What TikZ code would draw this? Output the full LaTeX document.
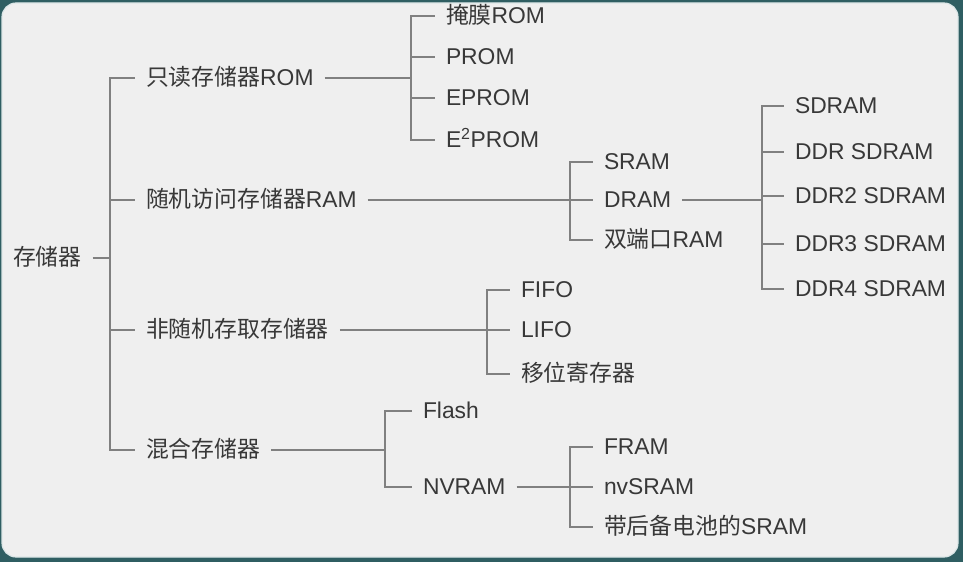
\documentclass[tikz,border=0pt]{standalone}
\usepackage{fontspec}
\setmainfont{Liberation Sans}
\newfontfamily\cjk{Noto Sans CJK SC}
\definecolor{framecol}{HTML}{2F5E62}
\definecolor{papercol}{HTML}{EFEFEF}
\definecolor{rimcol}{HTML}{DCE6E7}
\definecolor{inkcol}{HTML}{383838}
\definecolor{linecol}{HTML}{808080}

\begin{document}
\begin{tikzpicture}[x=0.03cm,y=-0.03cm,
    leaf/.style={anchor=west,inner sep=0pt,outer xsep=0.33cm,text=inkcol,
        font=\fontsize{19.5}{23}\selectfont,text height=15.6pt,text depth=2pt},
    branch/.style={draw=linecol,line width=1.3pt}]

    % Background and panel
    \useasboundingbox (0,0) rectangle (963,562);
    \fill[framecol] (0,0) rectangle (963,562);
    \filldraw[fill=papercol,draw=rimcol,line width=1pt,rounded corners=12pt] (2,3) rectangle (958,557);

    % Root and first level
    \node[leaf] (root) at (2,258) {\cjk 存储器};
    \node[leaf] (rom) at (135,78) {{\cjk 只读存储器}ROM};
    \node[leaf] (ram) at (135,200) {{\cjk 随机访问存储器}RAM};
    \node[leaf] (nra) at (135,330) {\cjk 非随机存取存储器};
    \node[leaf] (mix) at (135,450) {\cjk 混合存储器};

    % ROM types
    \node[leaf] (mask) at (435,16) {{\cjk 掩膜}ROM};
    \node[leaf] (prom) at (435,57) {PROM};
    \node[leaf] (eprom) at (435,98) {EPROM};
    \node[leaf] (eeprom) at (435,140) {E\textsuperscript{2}PROM};

    % RAM types
    \node[leaf] (sram) at (593,162) {SRAM};
    \node[leaf] (dram) at (593,200) {DRAM};
    \node[leaf] (dpram) at (593,240) {{\cjk 双端口}RAM};

    % DRAM types
    \node[leaf] (sdram) at (784,106) {SDRAM};
    \node[leaf] (ddr) at (784,152) {DDR SDRAM};
    \node[leaf] (ddr2) at (784,196) {DDR2 SDRAM};
    \node[leaf] (ddr3) at (784,244) {DDR3 SDRAM};
    \node[leaf] (ddr4) at (784,289) {DDR4 SDRAM};

    % Non-random access types
    \node[leaf] (fifo) at (510,290) {FIFO};
    \node[leaf] (lifo) at (510,330) {LIFO};
    \node[leaf] (shift) at (510,374) {\cjk 移位寄存器};

    % Hybrid types
    \node[leaf] (flash) at (412,411) {Flash};
    \node[leaf] (nvram) at (412,487) {NVRAM};
    \node[leaf] (fram) at (593,447) {FRAM};
    \node[leaf] (nvsram) at (593,487) {nvSRAM};
    \node[leaf] (bbsram) at (593,527) {{\cjk 带后备电池的}SRAM};

    % Junctions
    \coordinate (jroot) at (110,258);
    \coordinate (jrom) at (411,78);
    \coordinate (jram) at (570,200);
    \coordinate (jdram) at (762,200);
    \coordinate (jnra) at (487,330);
    \coordinate (jmix) at (385,450);
    \coordinate (jnv) at (570,487);

    % Connectors
    \draw[branch] (root.east) -- (jroot);
    \foreach \n in {rom,ram,nra,mix}
        \draw[branch] (jroot) |- (\n.west);
    \draw[branch] (rom.east) -- (jrom);
    \foreach \n in {mask,prom,eprom,eeprom}
        \draw[branch] (jrom) |- (\n.west);
    \draw[branch] (ram.east) -- (jram);
    \foreach \n in {sram,dram,dpram}
        \draw[branch] (jram) |- (\n.west);
    \draw[branch] (dram.east) -- (jdram);
    \foreach \n in {sdram,ddr,ddr2,ddr3,ddr4}
        \draw[branch] (jdram) |- (\n.west);
    \draw[branch] (nra.east) -- (jnra);
    \foreach \n in {fifo,lifo,shift}
        \draw[branch] (jnra) |- (\n.west);
    \draw[branch] (mix.east) -- (jmix);
    \foreach \n in {flash,nvram}
        \draw[branch] (jmix) |- (\n.west);
    \draw[branch] (nvram.east) -- (jnv);
    \foreach \n in {fram,nvsram,bbsram}
        \draw[branch] (jnv) |- (\n.west);

\end{tikzpicture}
\end{document}
